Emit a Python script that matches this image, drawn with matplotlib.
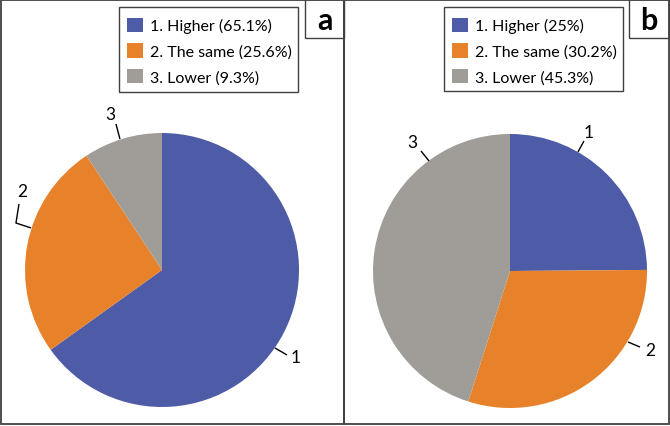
import matplotlib
matplotlib.use("Agg")
import matplotlib.pyplot as plt
from matplotlib.patches import Rectangle
import numpy as np

plt.rcParams['font.family'] = ['Lato', 'DejaVu Sans']

# ---- data ----
categories = ["1. Higher", "2. The same", "3. Lower"]
short_labels = ["1", "2", "3"]
values_a = [65.1, 25.6, 9.3]
values_b = [25.0, 30.2, 45.3]
legend_pct_a = ["65.1%", "25.6%", "9.3%"]
legend_pct_b = ["25%", "30.2%", "45.3%"]
panel_names = ["a", "b"]

colors = ["#4E5BA6", "#E8822A", "#A09D98"]
edge_col = "#404040"

W, H = 670, 427
fig = plt.figure(figsize=(W / 100, H / 100), dpi=100)

def px_rect(x0, y0, x1, y1):
    """pixel box (top-left origin) -> figure fraction [l, b, w, h]"""
    return [x0 / W, 1 - y1 / H, (x1 - x0) / W, (y1 - y0) / H]

def add_box(x0, y0, x1, y1, lw):
    fig.patches.append(Rectangle((x0 / W, 1 - y1 / H), (x1 - x0) / W, (y1 - y0) / H,
                                 transform=fig.transFigure, fill=False, edgecolor=edge_col,
                                 linewidth=lw, zorder=0))

# leader lines (in pie radius units): points from wedge edge outward, and text positions
leaders_a = [
    [(0.824, -0.569), (0.912, -0.620)],
    [(-0.956, 0.307), (-1.066, 0.343), (-1.044, 0.482)],
    [(-0.307, 0.956), (-0.336, 1.066)],
]
text_a = [(0.978, -0.635), (-1.018, 0.573), (-0.376, 1.139)]
leaders_b = [
    [(0.496, 0.869), (0.540, 0.949)],
    [(0.861, -0.518), (0.949, -0.555)],
    [(-0.591, 0.803), (-0.650, 0.876)],
]
text_b = [(0.573, 1.018), (1.022, -0.577), (-0.712, 0.938)]

panels = [
    dict(vals=values_a, pct=legend_pct_a, center=(162, 271), frame=(1, 1, 344, 425),
         tag=(305, 0, 344, 39), legbox=(119, 8, 298, 93), leaders=leaders_a, texts=text_a),
    dict(vals=values_b, pct=legend_pct_b, center=(510, 272), frame=(344, 1, 669, 425),
         tag=(629, 0, 669, 39), legbox=(444, 8, 623, 92), leaders=leaders_b, texts=text_b),
]

R = 137
for name, p in zip(panel_names, panels):
    add_box(*p["frame"], lw=1.3)
    tx0, ty0, tx1, ty1 = p["tag"]
    add_box(tx0, ty0, tx1, ty1, lw=1.0)
    fig.text((tx0 + tx1) / 2 / W, 1 - ((ty0 + ty1) / 2 + 1) / H, name, ha="center", va="center",
             fontsize=22, fontweight="bold", color="black")

    cx, cy = p["center"]
    ax = fig.add_axes(px_rect(cx - R, cy - R, cx + R, cy + R))
    wedges, _ = ax.pie(p["vals"], colors=colors, startangle=90, counterclock=False,
                       radius=1.0, wedgeprops=dict(linewidth=0))
    ax.set_xlim(-1, 1)
    ax.set_ylim(-1, 1)
    ax.set_aspect("equal")
    ax.axis("off")
    for pts, tp, lab in zip(p["leaders"], p["texts"], short_labels):
        xs = [q[0] for q in pts]
        ys = [q[1] for q in pts]
        ax.plot(xs, ys, color="black", lw=1.0, clip_on=False, solid_capstyle="butt")
        ax.text(tp[0], tp[1], lab, ha="center", va="center", fontsize=12.5, clip_on=False)

    lx0, ly0, lx1, ly1 = p["legbox"]
    add_box(lx0, ly0, lx1, ly1, lw=1.0)
    fig.legend(wedges, [f"{c} ({v})" for c, v in zip(categories, p["pct"])],
               loc="upper left", bbox_to_anchor=((lx0 + 8) / W, 1 - (ly0 + 10.5) / H),
               bbox_transform=fig.transFigure, fontsize=11.5, frameon=False,
               handlelength=1.03, handleheight=1.03, handletextpad=0.42,
               labelspacing=0.62, borderpad=0, borderaxespad=0)

fig.savefig("out.png", dpi=100)
